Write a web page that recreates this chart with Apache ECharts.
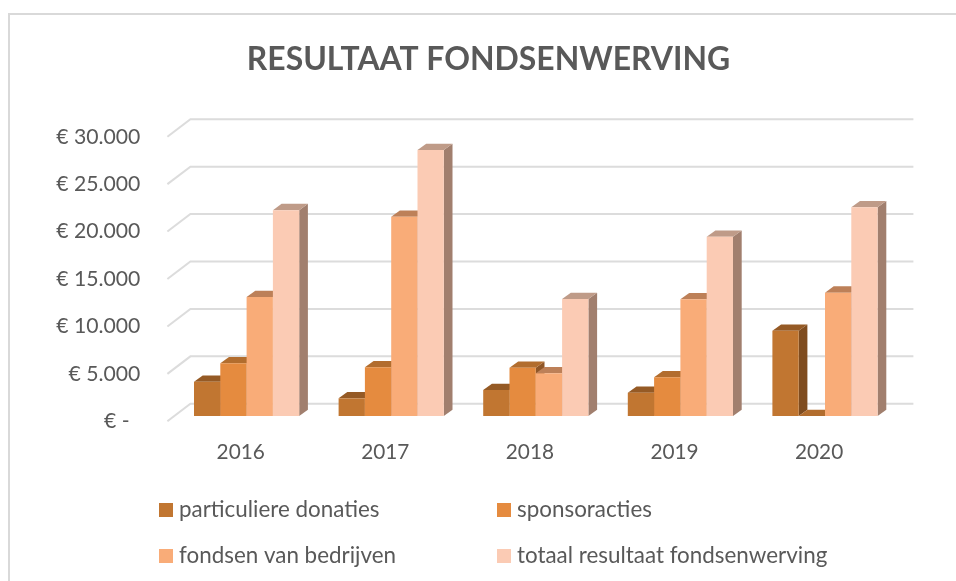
<!DOCTYPE html>
<html>
<head>
<meta charset="utf-8">
<style>
  html, body { margin: 0; padding: 0; background: #fff; }
  #main { width: 956px; height: 581px; }
</style>
<script src="https://cdn.jsdelivr.net/npm/echarts@6/dist/echarts.min.js"></script>
</head>
<body>
<div id="main"></div>
<script>
var years = ['2016', '2017', '2018', '2019', '2020'];
var particuliere = [3610, 1865, 2740, 2455, 8990];
var sponsor = [5550, 5130, 5090, 4075, 0];
var fondsen = [12540, 21000, 4500, 12300, 13000];
var totaal = [21700, 28030, 12330, 18900, 22000];
var seriesNames = ['particuliere donaties', 'sponsoracties', 'fondsen van bedrijven', 'totaal resultaat fondsenwerving'];
var yTicks = [0, 5000, 10000, 15000, 20000, 25000, 30000];
var yLabels = ['€ -  ', '€ 5.000', '€ 10.000', '€ 15.000', '€ 20.000', '€ 25.000', '€ 30.000'];

var faceColors = ['#c17631', '#e58b3f', '#f9ac78', '#fbcbb4'];
var topColors = ['#955a25', '#b26d2e', '#bd8058', '#bf9b88'];
var sideColors = ['#7f4c1f', '#8f5627', '#a5704d', '#a17f6e'];
var fontName = 'Lato';
var textColor = '#595959';

// bars stand a bit behind the front plane of the floor
var barShiftX = 7, barShiftY = 5.3;
var depthX = 8.7, depthY = 6.3;
var floorX = 23, floorY = 17.5;
var barWidth = 26.3, groupLeft = 19.6;

var chart = echarts.init(document.getElementById('main'));

function renderGrid(params, api) {
  var rect = params.coordSys;
  var y = api.coord([0, api.value(0)])[1];
  return {
    type: 'polyline',
    shape: { points: [[rect.x, y], [rect.x + floorX, y - floorY], [rect.x + rect.width + floorX, y - floorY]] },
    style: { fill: null, stroke: '#dcdcdc', lineWidth: 2 }
  };
}

function barRenderer(idx) {
  return function (params, api) {
    var band = api.size([1, 0])[0];
    var base = api.coord([api.value(0), 0]);
    var top = api.coord([api.value(0), api.value(1)]);
    var x = base[0] - band / 2 + groupLeft + barShiftX + idx * barWidth;
    var y0 = base[1] - barShiftY;
    var y1 = top[1] - barShiftY;
    var x1 = x + barWidth;
    return {
      type: 'group',
      children: [
        {
          type: 'polygon',
          shape: { points: [[x1, y0], [x1 + depthX, y0 - depthY], [x1 + depthX, y1 - depthY], [x1, y1]] },
          style: { fill: sideColors[idx] }
        },
        {
          type: 'polygon',
          shape: { points: [[x, y1], [x + depthX, y1 - depthY], [x1 + depthX, y1 - depthY], [x1, y1]] },
          style: { fill: topColors[idx] }
        },
        {
          type: 'rect',
          shape: { x: x, y: y1, width: barWidth, height: y0 - y1 },
          style: { fill: faceColors[idx] }
        }
      ]
    };
  };
}

function barSeries(idx, values) {
  return {
    name: seriesNames[idx],
    type: 'custom',
    renderItem: barRenderer(idx),
    itemStyle: { color: faceColors[idx] },
    encode: { x: 0, y: 1 },
    clip: false,
    data: values.map(function (v, i) { return [i, v]; })
  };
}

var legendText = { fontFamily: fontName, fontSize: 22.4, color: textColor, padding: [0, 0, 0, 1] };

var option = {
  animation: false,
  backgroundColor: '#ffffff',
  title: {
    text: 'RESULTAAT FONDSENWERVING',
    left: 483.5,
    top: 39,
    textAlign: 'center',
    textStyle: { fontFamily: fontName, fontWeight: 'bold', fontSize: 31.9, color: textColor }
  },
  legend: [
    {
      left: 154, top: 494, orient: 'vertical', itemGap: 24,
      itemWidth: 14, itemHeight: 14, icon: 'rect',
      textStyle: legendText,
      data: [seriesNames[0], seriesNames[2]]
    },
    {
      left: 492, top: 494, orient: 'vertical', itemGap: 24,
      itemWidth: 14, itemHeight: 14, icon: 'rect',
      textStyle: legendText,
      data: [seriesNames[1], seriesNames[3]]
    }
  ],
  grid: { left: 167.4, top: 136.7, width: 723, height: 284.6 },
  xAxis: {
    type: 'category',
    data: years,
    axisLine: { show: false },
    axisTick: { show: false },
    axisLabel: { fontFamily: fontName, fontSize: 20.8, color: textColor, margin: 20, padding: [0, 0, 0, 2] }
  },
  yAxis: {
    type: 'value',
    min: 0,
    max: 30000,
    interval: 5000,
    axisLine: { show: false },
    axisTick: { show: false },
    splitLine: { show: false },
    axisLabel: {
      fontFamily: fontName, fontSize: 21.2, color: textColor, margin: 27, padding: [3, 0, 0, 0],
      formatter: function (v) { return yLabels[yTicks.indexOf(v)]; }
    }
  },
  graphic: [{
    type: 'rect',
    silent: true,
    shape: { x: 9, y: 14, width: 1000, height: 1000 },
    style: { fill: 'none', stroke: '#d9d9d9', lineWidth: 2 }
  }],
  series: [
    {
      type: 'custom',
      silent: true,
      renderItem: renderGrid,
      encode: { y: 0 },
      clip: false,
      data: yTicks.map(function (v) { return [v]; })
    },
    barSeries(0, particuliere),
    barSeries(1, sponsor),
    barSeries(2, fondsen),
    barSeries(3, totaal)
  ]
};

chart.setOption(option);
</script>
</body>
</html>
